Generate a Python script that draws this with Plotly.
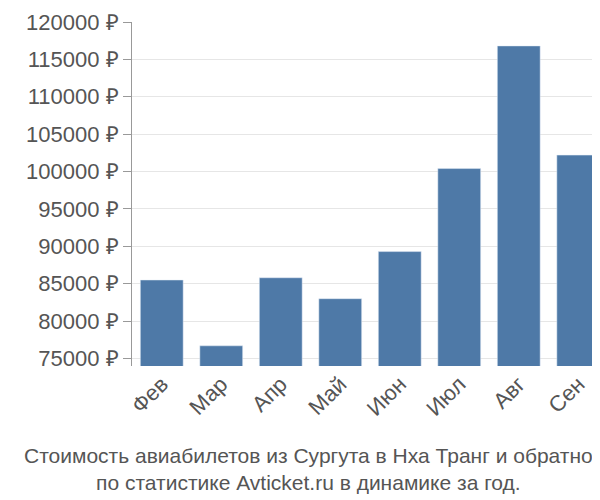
import plotly.graph_objects as go

months = ["Фев", "Мар", "Апр", "Май", "Июн", "Июл", "Авг", "Сен"]
prices = [85500, 76700, 85800, 83000, 89300, 100400, 116800, 102200]
tick_vals = list(range(75000, 120001, 5000))
tick_text = [f"{v} ₽" for v in tick_vals]

fig = go.Figure(
    go.Bar(x=months, y=prices, marker_color="#4e79a7", width=0.72)
)

# plot area spans x 124..600, so the page centre (300) is at paper x 0.37
fig.add_annotation(
    text="Стоимость авиабилетов из Сургута в Нха Транг и обратно<br>по статистике Avticket.ru в динамике за год.",
    xref="paper", yref="paper", x=0.37, y=-0.22,
    xanchor="center", yanchor="top", showarrow=False,
    font=dict(size=21, color="#555"),
)

fig.update_layout(
    width=600,
    height=500,
    margin=dict(l=124, r=0, t=14, b=142),
    plot_bgcolor="white",
    paper_bgcolor="white",
    font=dict(family="Liberation Sans, Arial, sans-serif", size=22, color="#555"),
    showlegend=False,
    xaxis=dict(tickangle=-45, showline=False, ticks=""),
    yaxis=dict(
        range=[74000, 120000],
        tickvals=tick_vals,
        ticktext=tick_text,
        showgrid=True,
        gridcolor="#e6e6e6",
        showline=True,
        linecolor="#999",
        ticks="outside",
        ticklen=8,
        tickcolor="#999",
        zeroline=False,
    ),
)

fig.write_html("out.html")
